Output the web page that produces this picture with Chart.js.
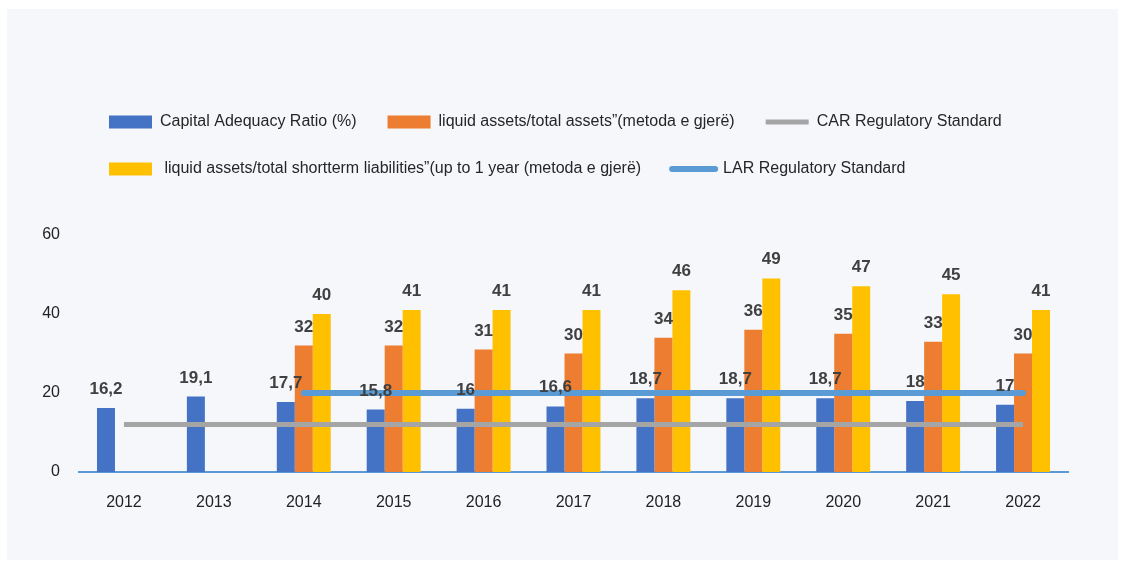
<!DOCTYPE html>
<html>
<head>
<meta charset="utf-8">
<script src="https://cdn.jsdelivr.net/npm/chart.js@4.4.0/dist/chart.umd.min.js"></script>
<style>
body{margin:0;background:#fff;}
#panel{position:absolute;left:7px;top:9px;width:1111px;height:551px;background:#f6f7fb;}
</style>
</head>
<body>
<div id="panel"><canvas id="carChart" width="1111" height="551"></canvas></div>
<script>
// data
let years = ['2012','2013','2014','2015','2016','2017','2018','2019','2020','2021','2022'];
let car = [16.2,19.1,17.7,15.8,16,16.6,18.7,18.7,18.7,18,17];
let liqTotal = [null,null,32,32,31,30,34,36,35,33,30];
let liqShort = [null,null,40,41,41,41,46,49,47,45,41];
let carStd = [12,12,12,12,12,12,12,12,12,12,12];
let larStd = [null,null,20,20,20,20,20,20,20,20,20];
let yTicks = [0,20,40,60];

let fnt = "'Liberation Sans', Arial, sans-serif";

// value labels over the bars
let barLabels = {
	id:'barLabels',
	afterDatasetsDraw:(chart)=>{
		let ctx = chart.ctx;
		ctx.save();
		ctx.font = 'bold 17px '+fnt;
		ctx.fillStyle = '#404040';
		ctx.textAlign = 'center';
		ctx.textBaseline = 'alphabetic';
		chart.data.datasets.forEach((ds,i)=>{
			if(ds.type!=='bar') return;
			let meta = chart.getDatasetMeta(i);
			meta.data.forEach((el,j)=>{
				let v = ds.data[j];
				if(v===null) return;
				ctx.fillText(String(v).replace('.',','), el.x, el.y-14);
			})
		})
		ctx.restore();
	}
}
// push legend rows to the right
let legendShift = {
	id:'legendShift',
	afterLayout:(chart)=>{
		chart.legend.left = 71;
	}
}

let ctx = document.getElementById('carChart');
let chart = new Chart(ctx, {
	data:{
		labels:years,
		datasets:[
			{type:'bar',label:'Capital Adequacy Ratio (%)',data:car,backgroundColor:'#4472c4',order:1},
			{type:'bar',label:'liquid assets/total assets\u201d(metoda e gjer\u00eb)',data:liqTotal,backgroundColor:'#ed7d31',order:1},
			{type:'line',label:'CAR Regulatory Standard',data:carStd,borderColor:'#a5a5a5',borderWidth:5,pointRadius:0,borderCapStyle:'butt',order:0},
			{type:'bar',label:' liquid assets/total shortterm liabilities\u201d(up to 1 year (metoda e gjer\u00eb)',data:liqShort,backgroundColor:'#ffc000',order:1},
			{type:'line',label:'LAR Regulatory Standard',data:larStd,borderColor:'#5b9bd5',borderWidth:6,pointRadius:0,borderCapStyle:'round',order:0}
		]
	},
	options:{
		responsive:false,
		animation:false,
		devicePixelRatio:1,
		layout:{padding:{top:74,left:0,right:50,bottom:0}},
		datasets:{bar:{categoryPercentage:0.6,barPercentage:1.0}},
		plugins:{
			tooltip:{enabled:false},
			title:{display:true,text:'',weight:500,font:{size:10},padding:{top:36,bottom:0}},
			legend:{
				position:'top',
				align:'start',
				labels:{
					usePointStyle:true,
					pointStyleWidth:43,
					boxHeight:13,
					padding:31,
					color:'#262626',
					font:{family:fnt,size:16},
					generateLabels:(ch)=>{
						return ch.data.datasets.map((ds,i)=>{
							if(ds.type==='line'){
								return {text:ds.label,datasetIndex:i,pointStyle:'line',strokeStyle:ds.borderColor,fillStyle:ds.borderColor,lineWidth:ds.borderWidth,lineCap:ds.borderCapStyle,fontColor:'#262626'}
							}
							return {text:ds.label,datasetIndex:i,pointStyle:'rect',fillStyle:ds.backgroundColor,strokeStyle:ds.backgroundColor,lineWidth:0,fontColor:'#262626'}
						})
					}
				}
			}
		},
		scales:{
			x:{
				grid:{display:false,drawTicks:false},
				border:{display:true,color:'#5b9bd5',width:2},
				ticks:{color:'#222',padding:21,font:{family:fnt,size:16}},
				afterFit:(s)=>{s.height=88}
			},
			y:{
				min:0,max:60,
				grid:{display:false,drawTicks:false},
				border:{display:false},
				afterBuildTicks:(s)=>{s.ticks=yTicks.map(v=>({value:v}))},
				ticks:{color:'#222',padding:19,font:{family:fnt,size:16}},
				afterFit:(s)=>{s.width=72}
			}
		}
	},
	plugins:[barLabels,legendShift]
});
</script>
</body>
</html>
